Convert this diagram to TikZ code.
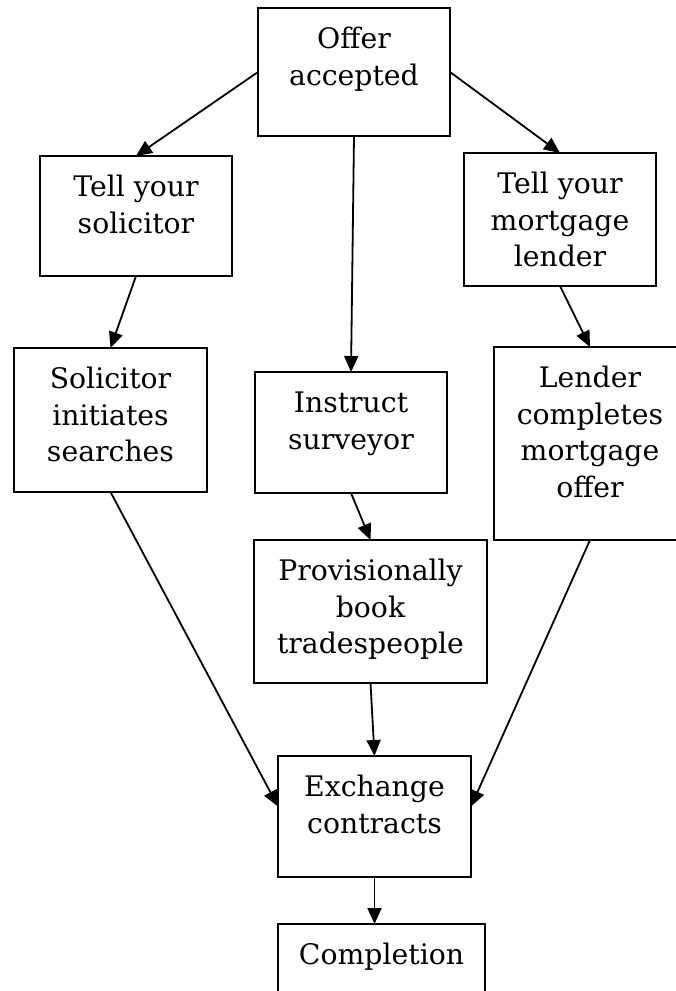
\documentclass[tikz,border=0pt]{standalone}
\usepackage{fontspec}
\setmainfont{DejaVu Serif}
\usetikzlibrary{arrows.meta}
\tikzset{
  boxn/.style 2 args={draw, line width=2pt, inner sep=0pt, outer sep=0pt,
    font=\fontsize{28.3pt}{36.5pt}\selectfont,
    execute at begin node={\begin{minipage}[c][#2pt][t]{#1pt}\centering\vspace*{15pt}\strut},
    execute at end node={\end{minipage}}},
  conn/.style={line width=1.8pt, -{Triangle[length=16pt,width=14pt]}}
}
\begin{document}
\begin{tikzpicture}[x=1pt,y=-1pt]
\useasboundingbox (0,0) rectangle (676,991);
\clip (0,0) rectangle (676,991);
\node[boxn={192}{128}] (offer) at (354,72) {Offer\\accepted};
\node[boxn={192}{120}] (tsol) at (136,216) {Tell your\\solicitor};
\node[boxn={192}{133}] (tlend) at (560,219.5) {Tell your\\mortgage\\lender};
\node[boxn={193}{144}] (search) at (110.5,420) {Solicitor\\initiates\\searches};
\node[boxn={192}{121}] (instr) at (351,432.5) {Instruct\\surveyor};
\node[boxn={192}{193}] (lendc) at (590,443.5) {Lender\\completes\\mortgage\\offer};
\node[boxn={233}{143}] (prov) at (370.5,611.5) {Provisionally\\book\\tradespeople};
\node[boxn={193}{121}] (exch) at (374.5,816.5) {Exchange\\contracts};
\node[boxn={207}{120}] (comp) at (381.5,984) {Completion};
\draw[conn] (offer.west) -- (tsol.north);
\draw[conn] (offer.east) -- (tlend.north);
\draw[conn] (offer.south) -- (instr.north);
\draw[conn] (tsol.south) -- (search.north);
\draw[conn] (tlend.south) -- (lendc.north);
\draw[conn] (instr.south) -- (prov.north);
\draw[conn] (prov.south) -- (exch.north);
\draw[conn] (search.south) -- ([yshift=10pt]exch.west);
\draw[conn] (lendc.south) -- ([yshift=10pt]exch.east);
\draw[conn] (exch.south) -- (exch.south |- comp.north);
\end{tikzpicture}
\end{document}
